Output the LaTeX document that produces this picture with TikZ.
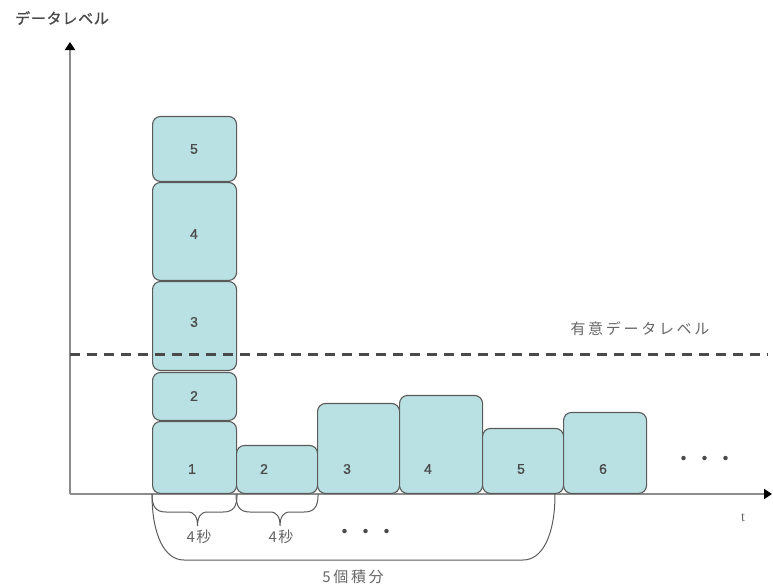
\documentclass[tikz,border=0pt]{standalone}
\usepackage{fontspec}
\setmainfont{Liberation Sans}
\newfontfamily\jpA[LetterSpace=5,FakeBold=1.2]{Noto Sans CJK JP}
\newfontfamily\jpB[LetterSpace=18]{Noto Sans CJK JP}
\newfontfamily\jpS[LetterSpace=8]{Noto Sans CJK JP}
\newfontfamily\jpN{Noto Sans CJK JP}
\newfontfamily\serifF{Liberation Serif}
\newfontfamily\numF[FakeBold=1]{Liberation Sans}
\usetikzlibrary{arrows.meta,calc}
\definecolor{boxfill}{HTML}{B9E1E4}
\definecolor{boxline}{HTML}{5A5A5A}
\definecolor{axisgray}{HTML}{8C8C8C}
\definecolor{txtgray}{HTML}{4A4A4A}
\definecolor{lbgray}{HTML}{666666}
\tikzset{
  databox/.style={draw=boxline, fill=boxfill, line width=1.1pt, rounded corners=8pt, inner sep=0pt, anchor=south west},
  numtext/.style={text=txtgray, font=\numF\fontsize{14}{14}\selectfont, inner sep=0pt},
  axisline/.style={draw=axisgray, line width=2pt, -{Triangle[length=8pt,width=10pt,color=black]}},
  levelline/.style={draw=txtgray, line width=3pt, dash pattern=on 10pt off 7pt},
  bracelike/.style={draw=boxline, line width=1pt},
  jplabel/.style={text=lbgray, inner sep=0pt},
}
\begin{document}
\begin{tikzpicture}[x=1pt,y=-1pt]
\useasboundingbox (0,0) rectangle (773,587);
% axes
\coordinate (O) at (70,494);
\coordinate (ytop) at (70,42);
\coordinate (xend) at (772,494);
\draw[axisline] (O) -- (ytop);
\draw[axisline] (O) -- (xend);
\node[jplabel, font=\jpA\fontsize{15}{15}\selectfont, text=txtgray] (ylab) at (62,18) {データレベル};
\node[jplabel, font=\serifF\fontsize{14}{14}\selectfont] (tlab) at (743,518) {t};
% column of boxes
\node[databox, minimum width=84pt, minimum height=72pt] (a1) at (152,494) {};
\node[databox, minimum width=84pt, minimum height=48pt] (a2) at (152,421) {};
\node[databox, minimum width=84pt, minimum height=89pt] (a3) at (152,371) {};
\node[databox, minimum width=84pt, minimum height=98pt] (a4) at (152,281) {};
\node[databox, minimum width=84pt, minimum height=65pt] (a5) at (152,182) {};
% row of boxes
\node[databox, minimum width=81pt, minimum height=48pt] (c2) at (236,494) {};
\node[databox, minimum width=82pt, minimum height=90pt] (c3) at (317,494) {};
\node[databox, minimum width=83pt, minimum height=98pt] (c4) at (399,494) {};
\node[databox, minimum width=81pt, minimum height=65pt] (c5) at (482,494) {};
\node[databox, minimum width=83pt, minimum height=81pt] (c6) at (563,494) {};
% numbers
\node[numtext] (n1) at (192,469) {1};
\node[numtext] (n2) at (194,396) {2};
\node[numtext] (n3) at (194,322) {3};
\node[numtext] (n4) at (194,234) {4};
\node[numtext] (n5) at (194,149) {5};
\node[numtext] (m2) at (264,469) {2};
\node[numtext] (m3) at (347,469) {3};
\node[numtext] (m4) at (428,469) {4};
\node[numtext] (m5) at (521,469) {5};
\node[numtext] (m6) at (603,469) {6};
\node[numtext, font=\jpN\fontsize{21}{21}\selectfont] (dots1) at (705,461) {・・・};
% significant level
\coordinate (d0) at (70,354);
\coordinate (d1) at (768,354);
\draw[levelline] (d0) -- (d1);
\node[jplabel, font=\jpB\fontsize{15}{15}\selectfont] (sig) at (640,329) {有意データレベル};
% braces
\draw[bracelike] (a1.south west) .. controls +(0,13) and +(-10,0) .. ($(a1.south west)+(14,18)$)
  -- ($(a1.south)+(-7,18)$) .. controls +(7,0) and +(0,-9) .. ($(a1.south)+(3,32)$)
  .. controls +(0,-9) and +(-7,0) .. ($(a1.south)+(13,18)$)
  -- ($(a1.south east)+(-14,18)$) .. controls +(10,0) and +(0,13) .. (a1.south east);
\draw[bracelike] (c2.south west) .. controls +(0,13) and +(-10,0) .. ($(c2.south west)+(14,18)$)
  -- ($(c2.south)+(-7,18)$) .. controls +(7,0) and +(0,-9) .. ($(c2.south)+(3,32)$)
  .. controls +(0,-9) and +(-7,0) .. ($(c2.south)+(13,18)$)
  -- ($(c2.south east)+(-14,18)$) .. controls +(10,0) and +(0,13) .. (c2.south east);
\node[jplabel, font=\jpS\fontsize{15}{15}\selectfont] (s1) at (199,537) {4秒};
\node[jplabel, font=\jpS\fontsize{15}{15}\selectfont] (s2) at (281,537) {4秒};
\node[numtext, font=\jpN\fontsize{21}{21}\selectfont] (dots2) at (366,534) {・・・};
\coordinate (bigR) at (555,494);
\draw[bracelike] (a1.south west) .. controls +(0,40) and +(-20,0) .. ($(a1.south west)+(32,66)$)
  -- ($(bigR)+(-32,66)$) .. controls +(20,0) and +(0,40) .. (bigR);
\node[jplabel, font=\jpB\fontsize{15}{15}\selectfont] (five) at (353,577) {5個積分};
\end{tikzpicture}
\end{document}
